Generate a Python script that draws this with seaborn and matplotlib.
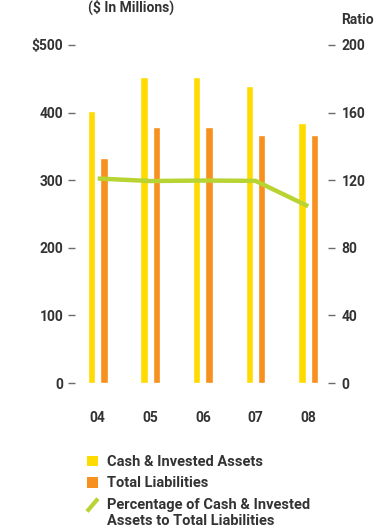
import matplotlib
matplotlib.use("Agg")
import matplotlib.pyplot as plt
from matplotlib.lines import Line2D
from matplotlib.patches import Patch
from matplotlib.legend_handler import HandlerBase
import seaborn as sns
import pandas as pd

years = ["04", "05", "06", "07", "08"]
cash_invested = [403, 453, 453, 439, 384]
total_liabilities = [333, 379, 378, 367, 367]
ratio = [121.0, 119.5, 119.8, 119.6, 104.6]

left_ticks = [0, 100, 200, 300, 400, 500]
left_labels = ["0", "100", "200", "300", "400", "$500"]
right_ticks = [0, 40, 80, 120, 160, 200]

YELLOW = "#FFDB00"
ORANGE = "#F7901E"
GREEN = "#B8D432"
TEXT = "#333333"
TICK = "#6b6b6b"

sns.set_theme(style="white")
plt.rcParams["font.family"] = ["Roboto", "DejaVu Sans"]
plt.rcParams["font.weight"] = "bold"

bars = pd.DataFrame({
    "year": years * 2,
    "value": cash_invested + total_liabilities,
    "series": ["Cash & Invested Assets"] * len(years) + ["Total Liabilities"] * len(years),
})
line = pd.DataFrame({"year": years, "ratio": ratio})

fig = plt.figure(figsize=(3.79, 5.31), dpi=100)
ax = fig.add_axes([0.198, 0.2787, 0.667, 0.6366])

sns.barplot(data=bars, x="year", y="value", hue="series",
            palette=[YELLOW, ORANGE], width=0.47, gap=0.4,
            saturation=1, legend=False, ax=ax)
ax.set_xlim(-0.431, 4.374)
ax.set_ylim(0, 500)
ax.set_xlabel("")
ax.set_ylabel("")
ax.set_yticks(left_ticks)
ax.set_yticklabels(left_labels)
ax.tick_params(axis="y", which="both", left=True, length=5, width=1,
               color=TICK, pad=3.5, labelsize=10, labelcolor=TEXT)
ax.tick_params(axis="x", bottom=False, pad=14, labelsize=10, labelcolor=TEXT)
for s in ax.spines.values():
    s.set_visible(False)

ax2 = ax.twinx()
sns.lineplot(data=line, x="year", y="ratio", color=GREEN, linewidth=3.2,
             ax=ax2, sort=False)
for ln in ax2.lines:
    ln.set_solid_capstyle("butt")
    ln.set_solid_joinstyle("miter")
ax2.set_ylim(0, 200)
ax2.set_xlim(-0.431, 4.374)
ax2.set_ylabel("")
ax2.set_yticks(right_ticks)
ax2.tick_params(axis="y", right=True, length=5, width=1, color=TICK,
                pad=5, labelsize=10, labelcolor=TEXT)
for s in ax2.spines.values():
    s.set_visible(False)

fig.text(131 / 379, 1 - 7 / 531, "($ In Millions)", ha="center", va="center",
         fontsize=10, color=TEXT)
fig.text(341 / 379, 1 - 20 / 531, "Ratio", ha="left", va="center",
         fontsize=10, color=TEXT)


class SlashHandler(HandlerBase):
    def create_artists(self, legend, orig_handle, xdescent, ydescent,
                       width, height, fontsize, trans):
        lift = 0.55 * fontsize
        x0, x1 = -xdescent, -xdescent + width
        y0, y1 = -ydescent + lift - 0.1 * height, -ydescent + height + lift + 0.1 * height
        ln = Line2D([x0, x1], [y0, y1], color=orig_handle.get_color(),
                    linewidth=orig_handle.get_linewidth(),
                    solid_capstyle="butt", transform=trans)
        return [ln]


handles = [
    Patch(facecolor=YELLOW, edgecolor="none"),
    Patch(facecolor=ORANGE, edgecolor="none"),
    Line2D([], [], color=GREEN, linewidth=3.0),
]
labels = [
    "Cash & Invested Assets",
    "Total Liabilities",
    "Percentage of Cash & Invested\nAssets to Total Liabilities",
]
fig.legend(handles, labels, loc="upper left",
           bbox_to_anchor=(87 / 379, 1 - 455 / 531),
           frameon=False, fontsize=10.5, labelcolor=TEXT,
           handlelength=0.75, handleheight=0.75, handletextpad=0.6,
           borderpad=0, borderaxespad=0, labelspacing=0.5,
           handler_map={Line2D: SlashHandler()})

fig.savefig("out.png", dpi=100)
